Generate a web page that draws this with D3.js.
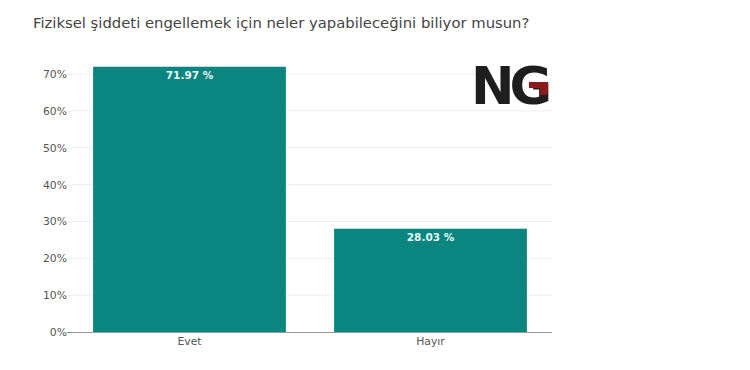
<!DOCTYPE html>
<html><head><meta charset="utf-8">
<script src="https://cdn.jsdelivr.net/npm/d3@7"></script>
<style>body{margin:0;background:#fff}svg{display:block}</style>
</head><body><svg id="c" width="750" height="370"></svg>
<script>
const title = "Fiziksel şiddeti engellemek için neler yapabileceğini biliyor musun?";
const categories = ["Evet", "Hayır"];
const values = [71.97, 28.03];
const yTicks = [0, 10, 20, 30, 40, 50, 60, 70];

const svg = d3.select("#c");
const font = "'DejaVu Sans', Verdana, sans-serif";
const x = d3.scaleBand().domain(categories).range([69, 551]).paddingInner(0.2).paddingOuter(0.1);
const y = d3.scaleLinear().domain([0, 70]).range([332, 74]);
const xL = 72, xR = 552;

svg.append("text").attr("x", 33).attr("y", 28).attr("font-family", font)
  .attr("font-size", 14.8).attr("fill", "#444").text(title);

// grid
svg.append("g").selectAll("line").data(yTicks.filter(d => d > 0)).join("line")
  .attr("x1", xL).attr("x2", xR).attr("y1", d => y(d)).attr("y2", d => y(d))
  .attr("stroke", "#eeeeee").attr("stroke-width", 1);

// y axis
const ya = svg.append("g").attr("transform", `translate(${xL},0)`)
  .call(d3.axisLeft(y).tickValues(yTicks).tickFormat(d => d + "%").tickSize(5).tickPadding(0));
ya.select(".domain").remove();
ya.selectAll("line").attr("stroke", "#eee");
ya.selectAll(".tick").filter(d => d === 0).select("line").attr("stroke", "#888");
ya.selectAll("text").attr("font-family", font).attr("font-size", 10.8).attr("fill", "#555");

// bars
svg.append("g").selectAll("rect").data(values).join("rect")
  .attr("x", (d, i) => x(categories[i])).attr("width", x.bandwidth())
  .attr("y", d => y(d)).attr("height", d => y(0) - y(d))
  .attr("fill", "#0b8580");

svg.append("g").selectAll("text").data(values).join("text")
  .attr("x", (d, i) => x(categories[i]) + x.bandwidth() / 2)
  .attr("y", d => y(d) + 12).attr("text-anchor", "middle")
  .attr("font-family", font).attr("font-size", 10.5).attr("font-weight", "bold")
  .attr("fill", "#e8f6f4").text(d => d.toFixed(2) + " %");

// baseline
svg.append("line").attr("x1", xL).attr("x2", xR).attr("y1", y(0) + 0.5).attr("y2", y(0) + 0.5)
  .attr("stroke", "#999").attr("stroke-width", 1);

// x axis labels
svg.append("g").selectAll("text").data(categories).join("text")
  .attr("x", d => x(d) + x.bandwidth() / 2).attr("y", 345).attr("text-anchor", "middle")
  .attr("font-family", font).attr("font-size", 10.8).attr("fill", "#555").text(d => d);

// NG logo
const logo = svg.append("g");
logo.append("text").attr("x", 471).attr("y", 104).attr("font-family", "'DejaVu Sans', sans-serif")
  .attr("font-weight", "bold").attr("font-size", 52).attr("letter-spacing", -5).attr("fill", "#1e1e1e").text("NG");
logo.append("path").attr("d", "M529,82 h19 v10 q0,3 -3,3 h-5 v-7 h-11 z").attr("fill", "#8b1a1a");
</script></body></html>
